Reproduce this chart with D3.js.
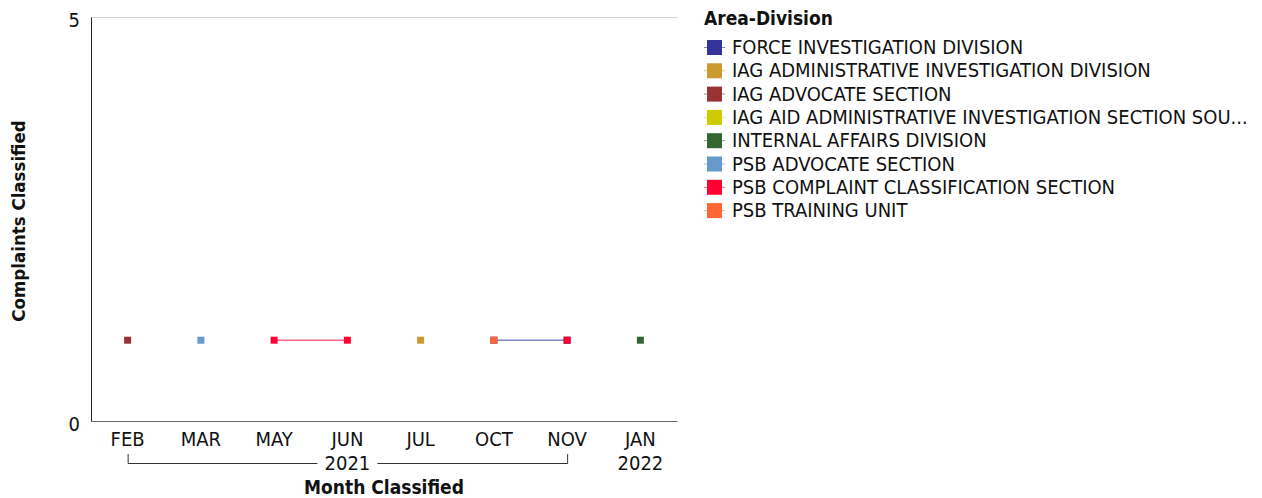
<!DOCTYPE html>
<html>
<head>
<meta charset="utf-8">
<script src="https://cdn.jsdelivr.net/npm/d3@7"></script>
<style>
  body { margin: 0; background: #fff; }
  text { font-family: "DejaVu Sans Condensed", "DejaVu Sans", sans-serif; fill: #111; }
</style>
</head>
<body>
<div id="chart"></div>
<script>
var months = ["FEB", "MAR", "MAY", "JUN", "JUL", "OCT", "NOV", "JAN"];
var monthYears = ["2021", "2021", "2021", "2021", "2021", "2021", "2021", "2022"];
var divisions = [
  "FORCE INVESTIGATION DIVISION",
  "IAG ADMINISTRATIVE INVESTIGATION DIVISION",
  "IAG ADVOCATE SECTION",
  "IAG AID ADMINISTRATIVE INVESTIGATION SECTION SOU...",
  "INTERNAL AFFAIRS DIVISION",
  "PSB ADVOCATE SECTION",
  "PSB COMPLAINT CLASSIFICATION SECTION",
  "PSB TRAINING UNIT"
];
var divisionColors = ["#333399", "#cc9933", "#993333", "#cccc00", "#336633", "#6699cc", "#ff0033", "#ff6633"];
// one value per month, null = no complaints that month
var forceValues     = [null, null, null, null, null, 1, 1, null];
var iagAdminValues  = [null, null, null, null, 1, null, null, null];
var iagAdvValues    = [1, null, null, null, null, null, null, null];
var iagAidValues    = [null, null, null, null, null, null, null, null];
var internalValues  = [null, null, null, null, null, null, null, 1];
var psbAdvValues    = [null, 1, null, null, null, null, null, null];
var psbComplValues  = [null, null, 1, 1, null, null, 1, null];
var psbTrainValues  = [null, null, null, null, null, 1, null, null];
var yTicks = [0, 5];

var allValues = [forceValues, iagAdminValues, iagAdvValues, iagAidValues,
                 internalValues, psbAdvValues, psbComplValues, psbTrainValues];
var series = divisions.map(function(name, i) {
  return { name: name, color: divisionColors[i], values: allValues[i] };
});

var W = 1262, H = 498;
var margin = { left: 91, top: 17, right: 585, bottom: 77 };
var plotW = W - margin.left - margin.right;
var plotH = H - margin.top - margin.bottom;

var svg = d3.select("#chart").append("svg")
  .attr("width", W).attr("height", H);

var g = svg.append("g")
  .attr("transform", "translate(" + margin.left + "," + margin.top + ")");

var x = d3.scaleBand().domain(d3.range(months.length)).range([0, plotW]);
var y = d3.scaleLinear().domain([0, 5]).range([plotH, 0]);

// top gridline
g.append("line")
  .attr("x1", 0).attr("x2", plotW)
  .attr("y1", y(5) + 0.5).attr("y2", y(5) + 0.5)
  .attr("stroke", "#d4d4d4");

// y axis
var yAxis = g.append("g").call(d3.axisLeft(y).tickValues(yTicks).tickFormat(d3.format("d")).tickSize(0).tickPadding(11));
yAxis.select(".domain").attr("stroke", "#222");
yAxis.selectAll("text").style("font-size", "20px").attr("fill", "#111").attr("dy", "0.45em");

// x axis
var xAxis = g.append("g")
  .attr("transform", "translate(0," + plotH + ")")
  .call(d3.axisBottom(x).tickSize(0).tickPadding(12).tickFormat(function(i) { return months[i]; }));
xAxis.select(".domain").attr("stroke", "#666");
xAxis.selectAll("text").style("font-size", "20px").attr("fill", "#111").attr("dy", "0.65em");

// year groups
var years = Array.from(new Set(monthYears));
years.forEach(function(yr) {
  var idx = d3.range(months.length).filter(function(i) { return monthYears[i] === yr; });
  var x0 = x(idx[0]) + x.bandwidth() / 2;
  var x1 = x(idx[idx.length - 1]) + x.bandwidth() / 2;
  var cx = (x0 + x1) / 2;
  var ly = plotH + 42;
  if (idx.length > 1) {
    var gap = 30;
    var path = "M" + (x0 + 0.5) + "," + (ly - 9) + "V" + (ly + 0.5) + "H" + (cx - gap) +
               "M" + (cx + gap) + "," + (ly + 0.5) + "H" + (x1 + 0.5) + "V" + (ly - 9);
    g.append("path").attr("d", path).attr("fill", "none").attr("stroke", "#333");
  }
  g.append("text")
    .attr("x", cx).attr("y", ly + 7)
    .attr("text-anchor", "middle")
    .style("font-size", "20px")
    .text(yr);
});

// lines (gaps where null)
var line = d3.line()
  .defined(function(d) { return d != null; })
  .x(function(d, i) { return x(i) + x.bandwidth() / 2; })
  .y(function(d) { return y(d); });

g.selectAll(".series-line")
  .data(series)
  .enter().append("path")
  .attr("class", "series-line")
  .attr("d", function(s) { return line(s.values); })
  .attr("fill", "none")
  .attr("stroke", function(s) { return s.color; })
  .attr("stroke-opacity", 0.6)
  .attr("stroke-width", 1.5);

// markers
var sz = 7;
series.forEach(function(s) {
  g.selectAll(null)
    .data(s.values.map(function(v, i) { return { v: v, i: i }; }).filter(function(d) { return d.v != null; }))
    .enter().append("rect")
    .attr("x", function(d) { return x(d.i) + x.bandwidth() / 2 - sz / 2; })
    .attr("y", function(d) { return y(d.v) - sz / 2; })
    .attr("width", sz).attr("height", sz)
    .attr("fill", s.color);
});

// axis titles
svg.append("text")
  .attr("transform", "translate(25," + (margin.top + plotH / 2 + 2) + ") rotate(-90)")
  .attr("text-anchor", "middle")
  .style("font-size", "18.5px").style("font-weight", "bold")
  .text("Complaints Classified");

svg.append("text")
  .attr("x", margin.left + plotW / 2).attr("y", 494)
  .attr("text-anchor", "middle")
  .style("font-size", "19px").style("font-weight", "bold")
  .text("Month Classified");

// legend
var legend = svg.append("g").attr("transform", "translate(704,0)");
legend.append("text")
  .attr("x", 0).attr("y", 25)
  .style("font-size", "19px").style("font-weight", "bold")
  .text("Area-Division");

var item = legend.selectAll(".item")
  .data(series)
  .enter().append("g")
  .attr("class", "item")
  .attr("transform", function(d, i) { return "translate(0," + (47 + i * 23.3) + ")"; });
item.append("line")
  .attr("x1", 0).attr("x2", 21).attr("y1", 0.5).attr("y2", 0.5)
  .attr("stroke", function(d) { return d.color; })
  .attr("stroke-opacity", 0.6);
item.append("rect")
  .attr("x", 3).attr("y", -7).attr("width", 15).attr("height", 15)
  .attr("fill", function(d) { return d.color; });
item.append("text")
  .attr("x", 28).attr("y", 7)
  .style("font-size", "20px")
  .text(function(d) { return d.name; });
</script>
</body>
</html>
